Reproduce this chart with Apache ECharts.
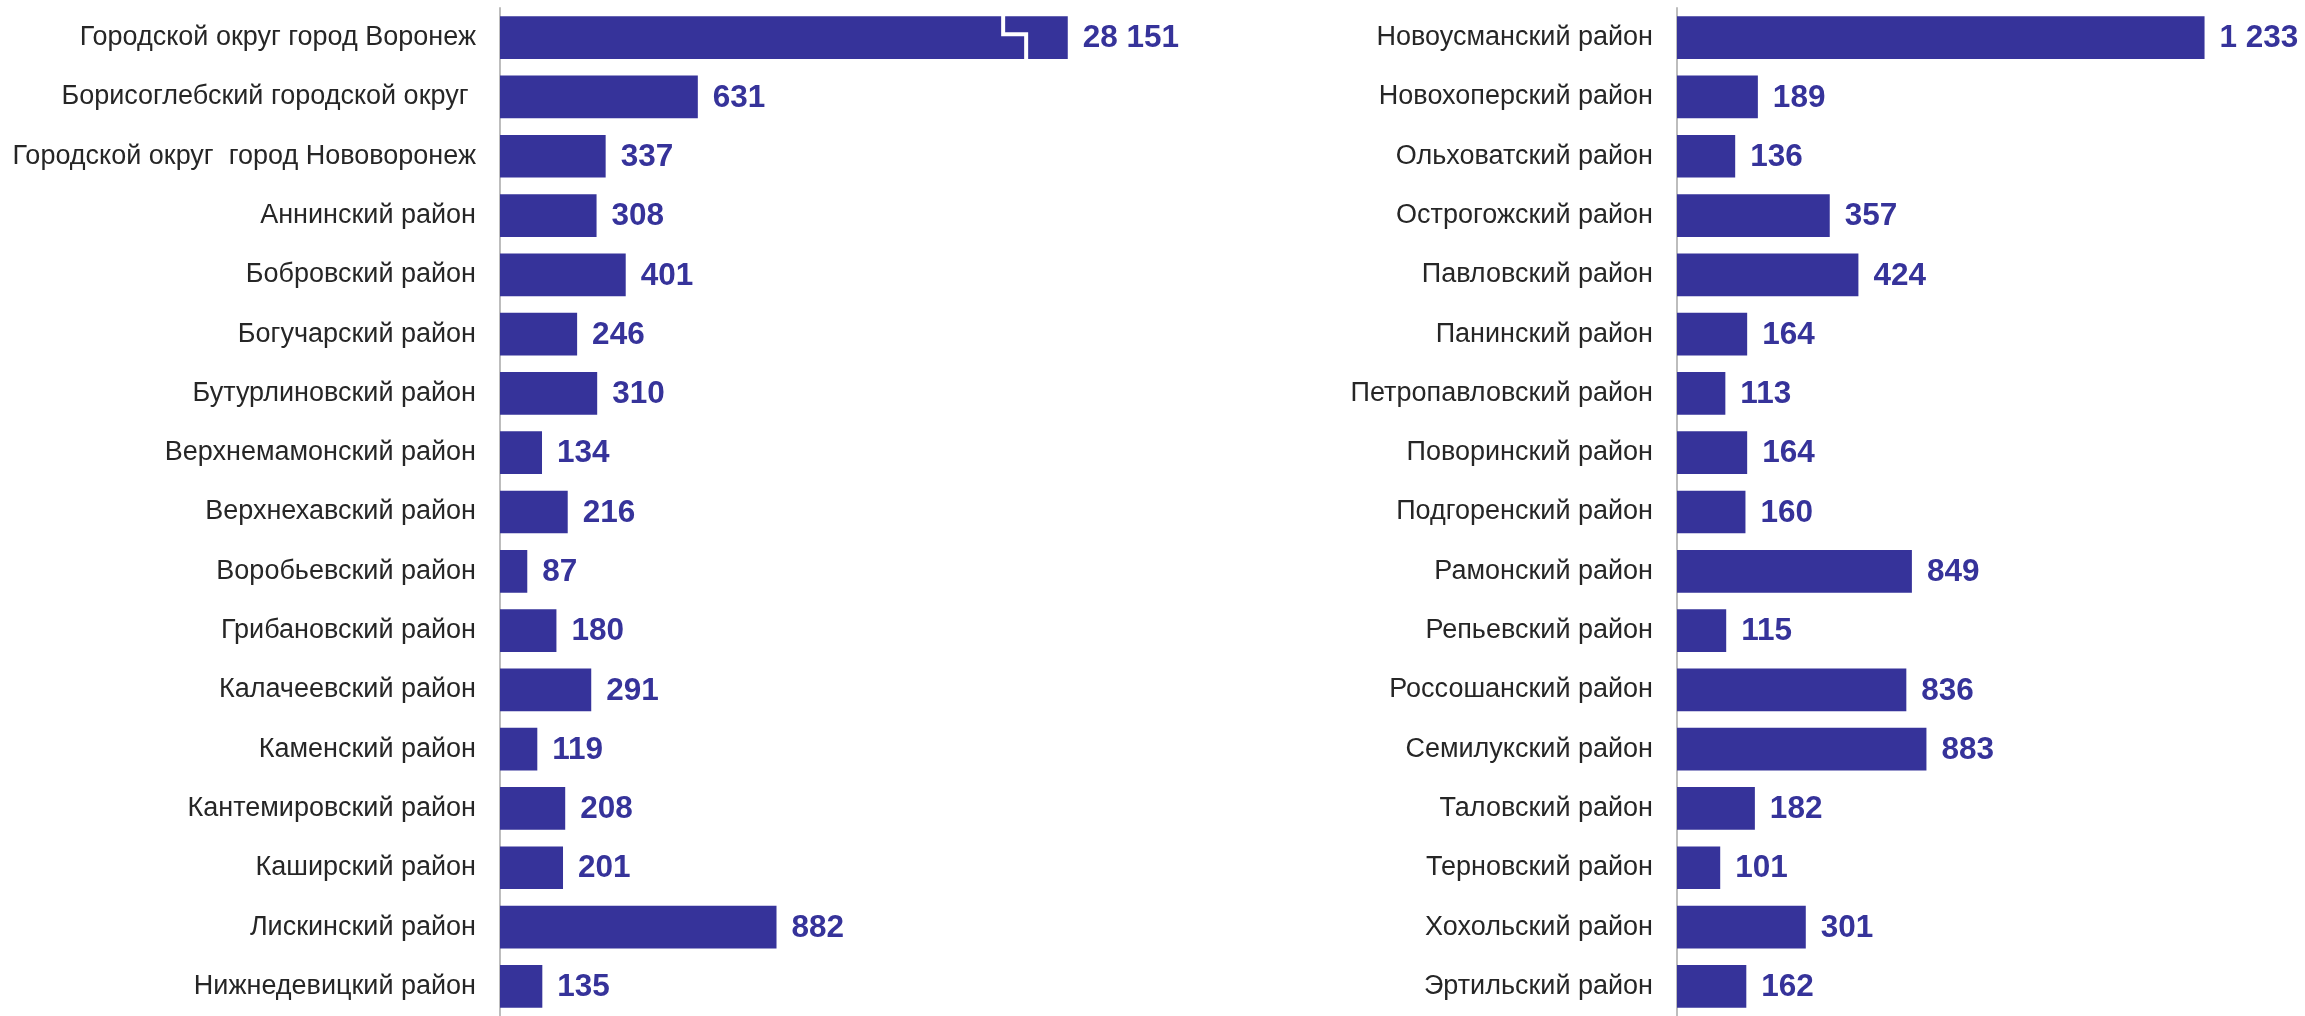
<!DOCTYPE html>
<html>
<head>
<meta charset="utf-8">
<script src="https://cdn.jsdelivr.net/npm/echarts@6/dist/echarts.min.js"></script>
<style>
  html, body { margin: 0; padding: 0; background: #fff; }
  #chart { width: 2305px; height: 1016px; }
</style>
</head>
<body>
<div id="chart"></div>
<script>
// ---------------------------------------------------------------------------
// Data
// ---------------------------------------------------------------------------
const leftCategories = [
  "Городской округ город Воронеж",
  "Борисоглебский городской округ ",
  "Городской округ  город Нововоронеж",
  "Аннинский район",
  "Бобровский район",
  "Богучарский район",
  "Бутурлиновский район",
  "Верхнемамонский район",
  "Верхнехавский район",
  "Воробьевский район",
  "Грибановский район",
  "Калачеевский район",
  "Каменский район",
  "Кантемировский район",
  "Каширский район",
  "Лискинский район",
  "Нижнедевицкий район",
];
const leftValues = [28151, 631, 337, 308, 401, 246, 310, 134, 216, 87, 180, 291, 119, 208, 201, 882, 135];

const rightCategories = [
  "Новоусманский район",
  "Новохоперский район",
  "Ольховатский район",
  "Острогожский район",
  "Павловский район",
  "Панинский район",
  "Петропавловский район",
  "Поворинский район",
  "Подгоренский район",
  "Рамонский район",
  "Репьевский район",
  "Россошанский район",
  "Семилукский район",
  "Таловский район",
  "Терновский район",
  "Хохольский район",
  "Эртильский район",
];
// printed labels
const rightValues = [1233, 189, 136, 357, 424, 164, 113, 164, 160, 849, 115, 836, 883, 182, 101, 301, 162];
// bar lengths as drawn in the picture (three bars are shorter than their labels)
const rightBarLengths = [1233, 189, 136, 357, 424, 164, 113, 164, 160, 549, 115, 536, 583, 182, 101, 301, 162];

// axis break on the left panel (for the Voronezh bar)
const leftBreak = { start: 1640, end: 27980 };

// ---------------------------------------------------------------------------
// Helpers
// ---------------------------------------------------------------------------
const BAR = "#36339a";
const fmt = (n) => String(n).replace(/\B(?=(\d{3})+(?!\d))/g, " ");

const catAxis = (gridIndex, data) => ({
  type: "category",
  gridIndex,
  data,
  inverse: true,
  axisTick: { show: false },
  axisLine: { show: true, lineStyle: { color: "#bdbdbd", width: 2 } },
  axisLabel: { color: "#262626", fontSize: 27, fontFamily: "Liberation Sans", margin: 24 },
});

const valueLabel = (texts) => ({
  show: true,
  position: "right",
  distance: 15,
  offset: [0, 1],
  color: BAR,
  fontSize: 31.5,
  fontWeight: "bold",
  fontFamily: "Liberation Sans",
  formatter: (p) => fmt(texts[p.dataIndex]),
});

// ---------------------------------------------------------------------------
// Chart
// ---------------------------------------------------------------------------
const chart = echarts.init(document.getElementById("chart"));

chart.setOption({
  backgroundColor: "#fff",
  animation: false,
  grid: [
    { left: 500, top: 8, width: 680, height: 1015 },
    { left: 1677, top: 8, width: 599, height: 1015 },
  ],
  xAxis: [
    {
      type: "value",
      gridIndex: 0,
      min: 0,
      max: 28509,
      show: false,
      splitLine: { show: false },
      breaks: [{ start: leftBreak.start, end: leftBreak.end, gap: 0 }],
      breakArea: { show: false },
    },
    {
      type: "value",
      gridIndex: 1,
      min: 0,
      max: 1400,
      show: false,
      splitLine: { show: false },
    },
  ],
  yAxis: [catAxis(0, leftCategories), catAxis(1, rightCategories)],
  series: [
    {
      type: "bar",
      xAxisIndex: 0,
      yAxisIndex: 0,
      data: leftValues,
      barCategoryGap: "28%",
      itemStyle: { color: BAR },
      label: valueLabel(leftValues),
    },
    {
      // stepped break marker drawn across the broken bar
      type: "custom",
      xAxisIndex: 0,
      yAxisIndex: 0,
      z: 5,
      data: [[leftBreak.start, 0]],
      renderItem: (params, api) => {
        const p = api.coord([api.value(0), api.value(1)]);
        const h = api.size([0, 1])[1] * 0.72;
        const top = p[1] - h / 2;
        const bot = p[1] + h / 2;
        const mid = top + h * 0.42;
        return {
          type: "polyline",
          shape: {
            points: [
              [p[0] - 11, top - 2],
              [p[0] - 11, mid],
              [p[0] + 12, mid],
              [p[0] + 12, bot + 2],
            ],
          },
          style: { stroke: "#fff", lineWidth: 4, fill: null },
        };
      },
    },
    {
      type: "bar",
      xAxisIndex: 1,
      yAxisIndex: 1,
      data: rightBarLengths,
      barCategoryGap: "28%",
      itemStyle: { color: BAR },
      label: valueLabel(rightValues),
    },
  ],
});
</script>
</body>
</html>
